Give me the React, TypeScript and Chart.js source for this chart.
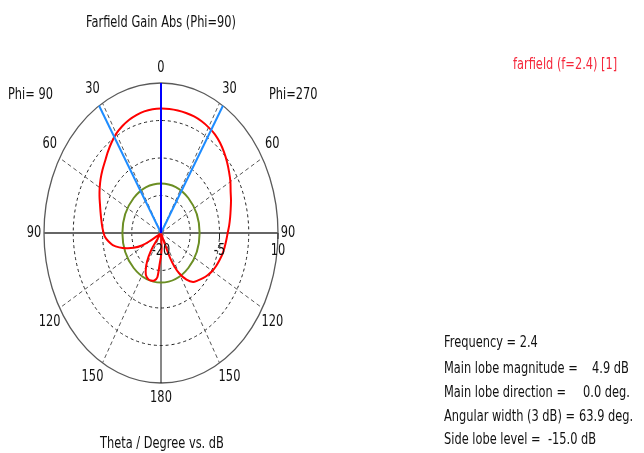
import { useEffect, useRef } from "react";
import { Chart, registerables } from "chart.js";

Chart.register(...registerables);

// Farfield gain cut (Phi=90 on the left, Phi=270 on the right).
// Signed theta in degrees: negative values lie on the Phi=90 side.
const thetaDeg = [
  -180, -177, -174, -170, -165, -160, -155, -150, -146, -143, -141, -138, -130,
  -124, -121, -119, -117, -113, -109, -105, -101, -97, -93, -89, -85, -80, -75,
  -70, -65, -60, -55, -50, -45, -40, -35, -30, -25, -20, -15, -10, -5, 0, 5, 10,
  15, 20, 25, 30, 35, 40, 45, 50, 55, 60, 65, 70, 75, 80, 85, 90, 95, 100, 105,
  110, 115, 120, 125, 130, 135, 140, 145, 150, 153, 155, 156, 157, 160, 168,
  172, 175, 177, 180,
];
const gainDb = [
  -15.3, -13.9, -11.1, -10.4, -10.15, -10.25, -10.8, -12.4, -14.3, -16.5, -20,
  -26, -30, -26, -19, -16.5, -14.5, -12.4, -10.6, -8.9, -7.4, -6.4, -5.6, -5.2,
  -4.86, -4.45, -3.95, -3.35, -2.6, -1.85, -1.1, -0.4, 0.3, 1.2, 2.1, 2.95,
  3.55, 4.05, 4.4, 4.7, 4.85, 4.9, 4.9, 4.88, 4.85, 4.8, 4.65, 4.4, 4.1, 3.55,
  2.85, 2.1, 1.3, 0.55, -0.3, -0.9, -1.5, -2.0, -2.45, -2.9, -3.2, -3.45, -3.7,
  -4.05, -4.4, -4.8, -5.35, -5.95, -6.6, -7.2, -8.6, -10.7, -12.6, -14.5, -17,
  -20, -26, -30, -26, -21, -17, -15.3,
];

// Radial (dB) axis
const DB_MIN = -20;
const DB_MAX = 10;
const ringLevels = [-12.5, -5, 2.5, 10];
const radialTickLabels = [-20, -5, 10];
const spokeAngles = [30, 60, 120, 150];
const angleLabels = [0, 30, 60, 90, 120, 150, 180];

// Summary values
const FREQUENCY = "2.4";
const MAIN_LOBE_DB = 4.9;
const MAIN_LOBE_DIR = 0.0;
const ANGULAR_WIDTH = 63.9;
const SIDE_LOBE_LEVEL = -15.0;

const FONT = '15px "DejaVu Sans"';
const TEXT_SQUEEZE = 0.76;
const TEXT_COLOR = "#111";

const SPAN = DB_MAX - DB_MIN;
const toRadius = (db: number) => Math.max(0, Math.min(SPAN, db - DB_MIN));
const toPoint = (thetaDegrees: number, db: number) => {
  const t = (thetaDegrees * Math.PI) / 180;
  const r = toRadius(db);
  return { x: r * Math.sin(t), y: r * Math.cos(t) };
};

const patternPoints = thetaDeg.map((t, i) => toPoint(t, gainDb[i]));
const rayPoints = (angle: number) => [toPoint(angle, DB_MIN), toPoint(angle, DB_MAX)];

function drawText(
  ctx: CanvasRenderingContext2D,
  text: string,
  x: number,
  y: number,
  align: CanvasTextAlign,
  color = TEXT_COLOR
) {
  ctx.save();
  ctx.font = FONT;
  ctx.fillStyle = color;
  ctx.textAlign = align;
  ctx.textBaseline = "middle";
  ctx.translate(x, y);
  ctx.scale(TEXT_SQUEEZE, 1);
  ctx.fillText(text, 0, 0);
  ctx.restore();
}

const polarFrame = {
  id: "polarFrame",
  beforeDatasetsDraw(chart: any) {
    const { ctx, scales } = chart;
    const sx = scales.x;
    const sy = scales.y;
    const cx = sx.getPixelForValue(0);
    const cy = sy.getPixelForValue(0);
    const rx = (r: number) => sx.getPixelForValue(r) - cx;
    const ry = (r: number) => cy - sy.getPixelForValue(r);

    ctx.save();
    // dashed level rings
    ctx.setLineDash([3, 3]);
    ctx.lineWidth = 1;
    ctx.strokeStyle = "#222";
    ringLevels.slice(0, -1).forEach((lv) => {
      const r = toRadius(lv);
      ctx.beginPath();
      ctx.ellipse(cx, cy, rx(r), ry(r), 0, 0, Math.PI * 2);
      ctx.stroke();
    });
    // dashed angle spokes
    ctx.setLineDash([4, 3]);
    ctx.strokeStyle = "#555";
    spokeAngles.forEach((a) => {
      [a, -a].forEach((s) => {
        const t = (s * Math.PI) / 180;
        ctx.beginPath();
        ctx.moveTo(cx, cy);
        ctx.lineTo(cx + rx(SPAN) * Math.sin(t), cy - ry(SPAN) * Math.cos(t));
        ctx.stroke();
      });
    });
    ctx.setLineDash([]);
    // outer boundary
    ctx.strokeStyle = "#5a5a5a";
    ctx.lineWidth = 1.3;
    ctx.beginPath();
    ctx.ellipse(cx, cy, rx(SPAN), ry(SPAN), 0, 0, Math.PI * 2);
    ctx.stroke();
    // horizontal axis
    ctx.strokeStyle = "#666";
    ctx.lineWidth = 2;
    ctx.beginPath();
    ctx.moveTo(cx - rx(SPAN), cy);
    ctx.lineTo(cx + rx(SPAN), cy);
    ctx.stroke();
    // radial tick marks
    ctx.lineWidth = 1;
    ctx.strokeStyle = "#222";
    radialTickLabels.slice(1).forEach((lv) => {
      const px = cx + rx(toRadius(lv));
      ctx.beginPath();
      ctx.moveTo(px, cy);
      ctx.lineTo(px, cy + 6);
      ctx.stroke();
    });
    // lower vertical axis
    ctx.strokeStyle = "#111";
    ctx.lineWidth = 1;
    ctx.beginPath();
    ctx.moveTo(cx, cy);
    ctx.lineTo(cx, cy + ry(SPAN));
    ctx.stroke();
    // side lobe level circle
    const sl = toRadius(MAIN_LOBE_DB + SIDE_LOBE_LEVEL);
    ctx.strokeStyle = "#6b8e23";
    ctx.lineWidth = 2;
    ctx.beginPath();
    ctx.ellipse(cx, cy, rx(sl), ry(sl), 0, 0, Math.PI * 2);
    ctx.stroke();
    ctx.restore();
  },
  afterDraw(chart: any) {
    const { ctx, scales } = chart;
    const sx = scales.x;
    const sy = scales.y;
    const cx = sx.getPixelForValue(0);
    const cy = sy.getPixelForValue(0);
    const rx = sx.getPixelForValue(SPAN) - cx;
    const ry = cy - sy.getPixelForValue(SPAN);

    // angle labels on both halves
    angleLabels.forEach((a) => {
      const t = (a * Math.PI) / 180;
      const s = Math.round(Math.sin(t) * 1000) / 1000;
      const c = Math.round(Math.cos(t) * 1000) / 1000;
      const dy = c > 0 ? -14 : c < 0 ? 14 : 0;
      const sides = s === 0 ? [1] : [-1, 1];
      sides.forEach((side) => {
        const dx = s === 0 ? 0 : side * 10;
        const x = cx + side * rx * s + dx;
        const y = cy - ry * c + dy + (c === 1 ? -1 : c === -1 ? 1 : 0);
        drawText(ctx, String(a), x, y, "center");
      });
    });

    // radial labels
    radialTickLabels.forEach((lv) => {
      drawText(ctx, String(lv), cx + rx * (toRadius(lv) / SPAN), cy + 18, "center");
    });

    drawText(ctx, "Phi= 90", 8, 95, "left");
    drawText(ctx, "Phi=270", 269, 95, "left");
    drawText(ctx, "Farfield Gain Abs (Phi=90)", cx, 23, "center");
    drawText(ctx, "Theta / Degree vs. dB", cx + 1, 444, "center");
    drawText(ctx, `farfield (f=${FREQUENCY}) [1]`, 513, 65, "left", "#f5283c");

    const x0 = 444;
    drawText(ctx, `Frequency = ${FREQUENCY}`, x0, 343, "left");
    drawText(ctx, "Main lobe magnitude =", x0, 369, "left");
    drawText(ctx, `${MAIN_LOBE_DB.toFixed(1)} dB`, 592, 369, "left");
    drawText(ctx, "Main lobe direction =", x0, 393, "left");
    drawText(ctx, `${MAIN_LOBE_DIR.toFixed(1)} deg.`, 583, 393, "left");
    drawText(ctx, "Angular width (3 dB) =", x0, 417, "left");
    drawText(ctx, `${ANGULAR_WIDTH.toFixed(1)} deg.`, 579, 417, "left");
    drawText(ctx, "Side lobe level =", x0, 440, "left");
    drawText(ctx, `${SIDE_LOBE_LEVEL.toFixed(1)} dB`, 548, 440, "left");
  },
};

export default function App() {
  const canvasRef = useRef<HTMLCanvasElement | null>(null);

  useEffect(() => {
    const canvas = canvasRef.current;
    if (!canvas) return;
    const line = (data: any[], color: string, tension = 0) => ({
      data,
      showLine: true,
      borderColor: color,
      borderWidth: 2,
      pointRadius: 0,
      tension,
      fill: false,
    });
    const chart = new Chart(canvas, {
      type: "scatter",
      data: {
        datasets: [
          line(rayPoints(MAIN_LOBE_DIR), "#0000ff"),
          line(rayPoints(MAIN_LOBE_DIR - ANGULAR_WIDTH / 2), "#1e8cff"),
          line(rayPoints(MAIN_LOBE_DIR + ANGULAR_WIDTH / 2), "#1e8cff"),
          line(patternPoints, "#ff0000", 0.25),
        ],
      },
      options: {
        responsive: false,
        animation: false,
        layout: { padding: { left: 44, right: 366, top: 83, bottom: 70 } },
        plugins: { legend: { display: false }, tooltip: { enabled: false } },
        scales: {
          x: { type: "linear", min: -SPAN, max: SPAN, display: false },
          y: { type: "linear", min: -SPAN, max: SPAN, display: false },
        },
      },
      plugins: [polarFrame],
    });
    return () => chart.destroy();
  }, []);

  return (
    <div
      style={{
        position: "fixed",
        left: 0,
        top: 0,
        width: 644,
        height: 453,
        background: "#fff",
      }}
    >
      <canvas ref={canvasRef} width={644} height={453} style={{ display: "block" }} />
    </div>
  );
}
